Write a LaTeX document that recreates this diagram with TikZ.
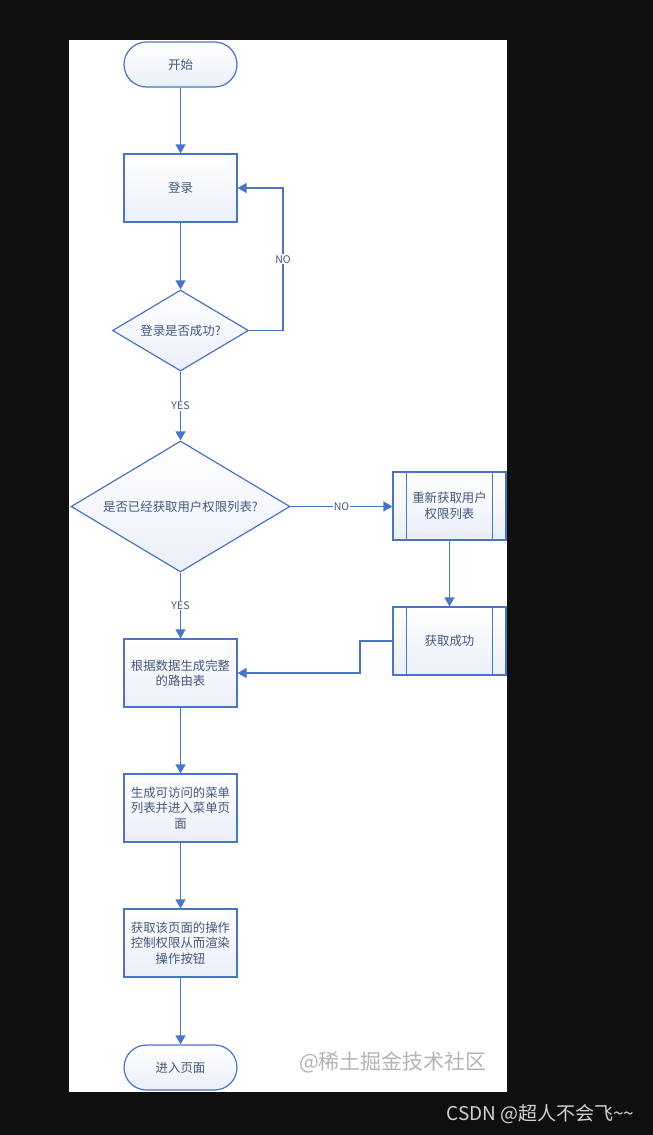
\documentclass[tikz,border=0pt]{standalone}
\usepackage{fontspec}
\setmainfont{Noto Sans CJK SC}
\usetikzlibrary{arrows.meta,positioning,shapes.geometric}
\usepackage{xcolor}
\definecolor{flowline}{HTML}{4A74C4}
\definecolor{flowtext}{HTML}{45587F}
\definecolor{flowfill}{HTML}{EAEFF9}
\definecolor{backdrop}{HTML}{0F0F0F}
\definecolor{marktext}{HTML}{B4B4B4}
\definecolor{sitetext}{HTML}{D2D2D2}

\begin{document}
\begin{tikzpicture}[x=1pt,y=-1pt,
  font=\fontsize{12.4}{15.5}\selectfont,
  base/.style={draw=flowline,line width=1.2pt,top color=white,bottom color=flowfill,text=flowtext,align=center,inner sep=2pt},
  terminal/.style={base,minimum width=113pt,minimum height=45pt,rounded corners=22.5pt},
  process/.style={base,minimum width=113pt,minimum height=68pt},
  decision/.style={base,diamond,aspect=1.68,inner sep=0pt},
  flow/.style={draw=flowline,line width=1.2pt,-{Triangle[width=10pt,length=9pt]}},
  tag/.style={fill=white,text=flowtext,inner sep=1pt,font=\fontsize{10.5}{12}\selectfont}]
  \useasboundingbox (0,0) rectangle (653,1135);
  % backdrop and sheet
  \fill[backdrop] (0,0) rectangle (653,1135);
  \fill[white] (69,40) rectangle (507,1092);

  % main column
  \node[terminal] (start) at (180.5,64.5) {开始};
  \node[process] (login) at (180.5,188) {登录};
  \node[decision,minimum width=136pt,minimum height=81pt] (ok1) at (180.5,330.5) {登录是否成功?};
  \node[decision,minimum width=219pt,minimum height=131pt] (perm) at (180.5,506.5) {是否已经获取用户权限列表?};
  \node[process] (route) at (180.5,673) {根据数据生成完整\\的路由表};
  \node[process] (menu) at (180.5,808) {生成可访问的菜单\\列表并进入菜单页\\面};
  \node[process] (btns) at (180.5,943) {获取该页面的操作\\控制权限从而渲染\\操作按钮};
  \node[terminal] (enter) at (180.5,1067.5) {进入页面};

  % side column (subprocesses)
  \node[process] (refetch) at (449.5,506) {重新获取用户\\权限列表};
  \node[process] (fetched) at (449.5,641) {获取成功};
  \foreach \n in {refetch,fetched} {
    \draw[flowline,line width=1.2pt] ([xshift=14pt]\n.north west) -- ([xshift=14pt]\n.south west);
    \draw[flowline,line width=1.2pt] ([xshift=-14pt]\n.north east) -- ([xshift=-14pt]\n.south east);
  }

  % bends
  \coordinate (loopR) at (283,188);
  \coordinate (bend) at (360,641);

  % connectors
  \draw[flow] (start) -- (login);
  \draw[flow] (login) -- (ok1);
  \draw[flow] (ok1.east) -| node[tag,pos=0.75] {NO} (loopR) -- (login.east);
  \draw[flow] (ok1) -- node[tag] {YES} (perm);
  \draw[flow] (perm.east) -- node[tag] {NO} (perm.east -| refetch.west);
  \draw[flow] (refetch) -- (fetched);
  \draw[flow] (perm) -- node[tag] {YES} (route);
  \draw[flow] (fetched.west) -- (bend) |- (route.east);
  \draw[flow] (route) -- (menu);
  \draw[flow] (menu) -- (btns);
  \draw[flow] (btns) -- (enter);

  % watermarks
  \node[text=marktext,font=\fontsize{21}{24}\selectfont] (mark) at (393,1062) {@稀土掘金技术社区};
  \node[text=sitetext,font=\fontsize{19}{22}\selectfont] (site) at (540.5,1114) {CSDN @超人不会飞\textasciitilde\textasciitilde};
\end{tikzpicture}
\end{document}
